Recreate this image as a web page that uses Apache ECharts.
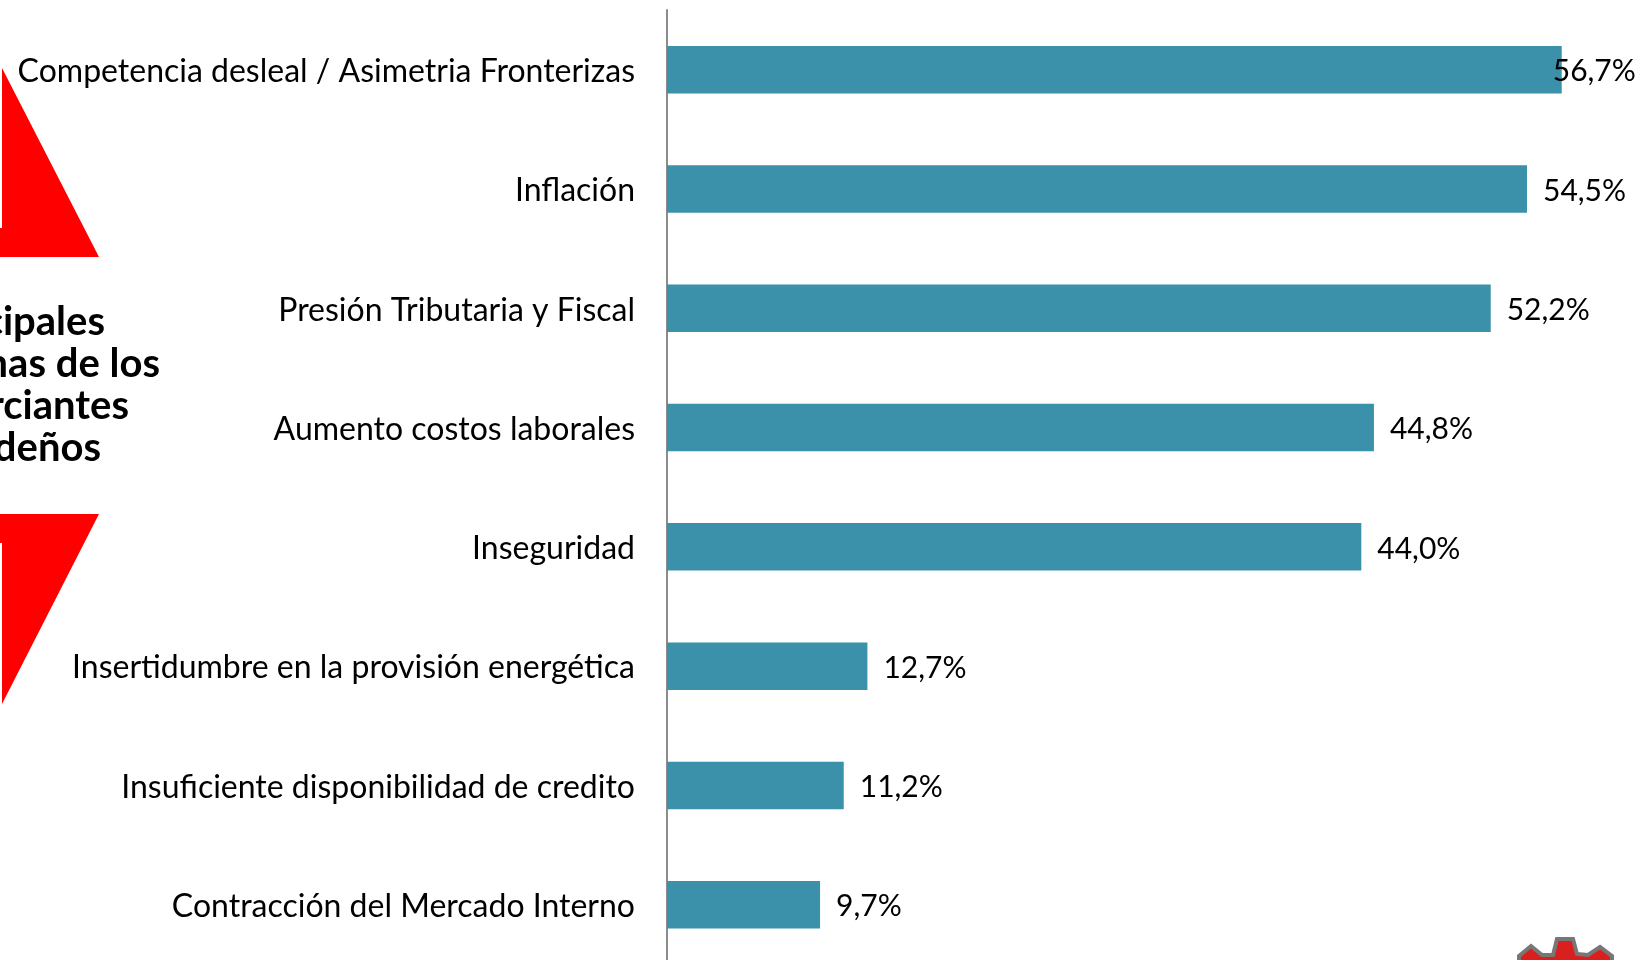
<!DOCTYPE html>
<html>
<head>
<meta charset="utf-8">
<style>
  html, body { margin: 0; padding: 0; background: #fff; }
  #mychart { width: 1640px; height: 960px; }
</style>
<script src="https://cdn.jsdelivr.net/npm/echarts@6/dist/echarts.min.js"></script>
</head>
<body>
<div id="mychart"></div>
<script>
// categories, top to bottom
const categories = [
  'Competencia desleal / Asimetria Fronterizas',
  'Inflación',
  'Presión Tributaria y Fiscal',
  'Aumento costos laborales',
  'Inseguridad',
  'Insertidumbre en la provisión energética',
  'Insuficiente disponibilidad de credito',
  'Contracción del Mercado Interno'
];
const values = [56.7, 54.5, 52.2, 44.8, 44.0, 12.7, 11.2, 9.7];
const valueLabels = ['56,7%', '54,5%', '52,2%', '44,8%', '44,0%', '12,7%', '11,2%', '9,7%'];
const titleLines = ['Principales', 'Problemas de los', 'Comerciantes', 'deños'];

const fontName = 'Lato';
const mapChart = echarts.init(document.getElementById('mychart'));

// side title, cut by the left edge like in the original slide
const titleRight = [105, 160, 129, 101];
const titleGraphics = titleLines.map(function (line, i) {
  return {
    type: 'text',
    x: titleRight[i],
    y: 322.5 + i * 42,
    style: {
      text: line,
      align: 'right',
      verticalAlign: 'middle',
      fill: '#000',
      font: 'bold 40px ' + fontName
    }
  };
});

const option = {
  animation: false,
  backgroundColor: '#fff',
  // grid runs past the bottom of the page, v6 would shrink it otherwise
  grid: { left: 667, top: 10, width: 946.8, height: 954.4, outerBoundsMode: 'none' },
  xAxis: { type: 'value', min: 0, max: 60, show: false },
  yAxis: {
    type: 'category',
    inverse: true,
    data: categories,
    axisLine: { show: true, lineStyle: { color: '#8c8c8c', width: 2 } },
    axisTick: { show: false },
    axisLabel: {
      margin: 32,
      formatter: '{a|{value}}',
      rich: {
        a: { color: '#000', fontFamily: fontName, fontSize: 32, padding: [4, 0, 0, 0] }
      }
    }
  },
  series: [{
    type: 'bar',
    barWidth: 47.5,
    itemStyle: { color: '#3a91a9' },
    data: values.map(function (v, i) {
      // the first label sits on top of the bar end
      return {
        value: v,
        label: { offset: i === 0 ? [-25, 2] : [0, 2] }
      };
    }),
    label: {
      show: true,
      position: 'right',
      distance: 16,
      color: '#000',
      fontFamily: fontName,
      fontSize: 30,
      formatter: function (p) { return valueLabels[p.dataIndex]; }
    }
  }],
  graphic: titleGraphics.concat([
    {
      // upper red triangle
      type: 'polygon',
      shape: { points: [[2, 68], [99, 257], [0, 257], [0, 228], [2, 228]] },
      style: { fill: '#ff0000' }
    },
    {
      // lower red triangle
      type: 'polygon',
      shape: { points: [[0, 514], [99, 514], [2, 704], [2, 543], [0, 543]] },
      style: { fill: '#ff0000' }
    },
    {
      // top of the gear logo, bottom right corner
      type: 'polygon',
      shape: { points: [[1519, 956], [1531, 946], [1542, 955], [1553, 955], [1557, 939], [1573, 939], [1577, 954], [1588, 955], [1600, 947], [1612, 956], [1612, 962], [1519, 962]] },
      style: { fill: '#d9201f', stroke: '#777', lineWidth: 4 }
    }
  ])
};

mapChart.setOption(option);
</script>
</body>
</html>
